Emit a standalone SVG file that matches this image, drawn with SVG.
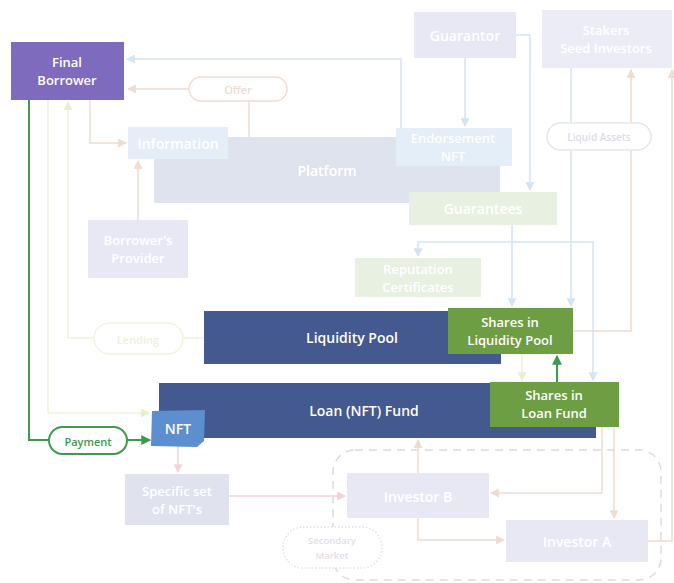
<svg xmlns="http://www.w3.org/2000/svg" width="674" height="583" viewBox="0 0 674 583">
<defs>
<style>
text{font-family:"Open Sans","Liberation Sans",sans-serif;font-weight:600;text-anchor:middle;dominant-baseline:central}
.w{fill:#ffffff;font-size:14px}
.w2{fill:#ffffff;font-size:13px}
.c{fill:none;stroke-width:1.5}
.tan{stroke:#eedcd0}
.blue{stroke:#d3e5f4}
.lg{stroke:#eff3dc}
.pink{stroke:#f2d2d7}
.grn{stroke:#3e9a4c;stroke-width:2}
</style>
<marker id="aTan" viewBox="0 0 8 8" refX="7" refY="4" markerWidth="6" markerHeight="6" orient="auto"><path d="M0,0L8,4L0,8z" fill="#eedcd0"/></marker>
<marker id="aBlue" viewBox="0 0 8 8" refX="7" refY="4" markerWidth="6" markerHeight="6" orient="auto"><path d="M0,0L8,4L0,8z" fill="#d3e5f4"/></marker>
<marker id="aLg" viewBox="0 0 8 8" refX="7" refY="4" markerWidth="6" markerHeight="6" orient="auto"><path d="M0,0L8,4L0,8z" fill="#e8eed0"/></marker>
<marker id="aPink" viewBox="0 0 8 8" refX="7" refY="4" markerWidth="6" markerHeight="6" orient="auto"><path d="M0,0L8,4L0,8z" fill="#f2d2d7"/></marker>
<marker id="aGrn" viewBox="0 0 8 8" refX="7" refY="4" markerWidth="5" markerHeight="5" orient="auto"><path d="M0,0L8,4L0,8z" fill="#3e9a4c"/></marker>
</defs>
<rect width="674" height="583" fill="#ffffff"/>

<g id="connectors">
<path class="c blue" d="M401,128 V59 H127" marker-end="url(#aBlue)"/>
<path class="c tan" d="M189,89 H128" marker-end="url(#aTan)"/>
<path class="c tan" d="M249,101 V137"/>
<path class="c tan" d="M90,100 V143 H126" marker-end="url(#aTan)"/>
<path class="c tan" d="M138,220 V161" marker-end="url(#aTan)"/>
<path class="c blue" d="M465,58 V126" marker-end="url(#aBlue)"/>
<path class="c blue" d="M516,35 H530 V190" marker-end="url(#aBlue)"/>
<path class="c blue" d="M512,225 V306" marker-end="url(#aBlue)"/>
<path class="c blue" d="M512,242 H418 V256" marker-end="url(#aBlue)"/>
<path class="c blue" d="M512,242 H593 V380" marker-end="url(#aBlue)"/>
<path class="c blue" d="M571,68 V306" marker-end="url(#aBlue)"/>
<path class="c tan" d="M573,331 H631 V70" marker-end="url(#aTan)"/>
<path class="c tan" d="M648,541 H672 V70" marker-end="url(#aTan)"/>
<path class="c lg" d="M204,338 H183"/>
<path class="c lg" d="M94,338 H68 V102" marker-end="url(#aLg)"/>
<path class="c lg" d="M48,100 V413 H149" marker-end="url(#aLg)"/>
<path class="c lg" d="M522,354 V380" marker-end="url(#aLg)"/>
<path class="c grn" d="M29,100 V440 H49"/>
<path class="c grn" d="M127,440 H150" marker-end="url(#aGrn)"/>
<path class="c grn" d="M557,382 V356" marker-end="url(#aGrn)"/>
<path class="c pink" d="M178,446 V472" marker-end="url(#aPink)"/>
<path class="c pink" d="M229,496 H345" marker-end="url(#aPink)"/>
<path class="c tan" d="M418,473 V440" marker-end="url(#aTan)"/>
<path class="c tan" d="M602,427 V493 H491" marker-end="url(#aTan)"/>
<path class="c tan" d="M614,427 V518" marker-end="url(#aTan)"/>
<path class="c tan" d="M418,518 V540 H504" marker-end="url(#aTan)"/>
</g>

<g id="secondary-market-area">
<rect x="333" y="450" width="328" height="130" rx="22" fill="none" stroke="#dcdcdc" stroke-width="1.5" stroke-dasharray="8,6"/>
</g>

<g id="platform">
<rect x="154" y="137" width="346" height="66" fill="#dfe3ee"/>
<text class="w" x="327" y="170">Platform</text>
</g>
<g id="information">
<rect x="128" y="127" width="100" height="32" fill="#e5edf8"/>
<text class="w" x="178" y="143">Information</text>
</g>
<g id="final-borrower">
<rect x="11" y="42" width="113" height="58" fill="#7f6bbd"/>
<text class="w2" x="67" y="62">Final</text>
<text class="w2" x="67" y="80">Borrower</text>
</g>
<g id="offer">
<rect x="189" y="77" width="98" height="24" rx="12" fill="#ffffff" stroke="#efdcd0" stroke-width="1.5"/>
<text x="238" y="89" font-size="11" fill="#ecdcd2">Offer</text>
</g>
<g id="guarantor">
<rect x="414" y="12" width="102" height="46" fill="#e8e8f4"/>
<text class="w" x="465" y="35">Guarantor</text>
</g>
<g id="endorsement-nft">
<rect x="396" y="128" width="116" height="38" fill="#e4eef8"/>
<text class="w2" x="453" y="138">Endorsement</text>
<text class="w2" x="453" y="156">NFT</text>
</g>
<g id="stakers">
<rect x="542" y="10" width="130" height="58" fill="#ececf6"/>
<text class="w2" x="606" y="30">Stakers</text>
<text class="w2" x="606" y="48">Seed Investors</text>
</g>
<g id="liquid-assets">
<rect x="547" y="123" width="104" height="27" rx="13.5" fill="#ffffff" stroke="#e6e6ee" stroke-width="1.5"/>
<text x="599" y="137" font-size="10" fill="#dcdce6">Liquid Assets</text>
</g>
<g id="guarantees">
<rect x="409" y="192" width="148" height="33" fill="#e8f0e2"/>
<text class="w" x="483" y="208">Guarantees</text>
</g>
<g id="borrowers-provider">
<rect x="88" y="220" width="100" height="58" fill="#e8e8f4"/>
<text class="w2" x="138" y="240">Borrower's</text>
<text class="w2" x="138" y="258">Provider</text>
</g>
<g id="reputation-certificates">
<rect x="355" y="258" width="126" height="39" fill="#e8f0e2"/>
<text class="w2" x="418" y="269">Reputation</text>
<text class="w2" x="418" y="287">Certificates</text>
</g>
<g id="lending">
<rect x="94" y="323" width="89" height="31" rx="15.5" fill="#ffffff" stroke="#f2f4e0" stroke-width="1.5"/>
<text x="138" y="339" font-size="11" fill="#eef0dc">Lending</text>
</g>
<g id="liquidity-pool">
<rect x="204" y="311" width="297" height="53" fill="#44598f"/>
<text class="w" x="352" y="337">Liquidity Pool</text>
</g>
<g id="shares-lp">
<rect x="448" y="308" width="125" height="46" fill="#6e9e44"/>
<text class="w2" x="510" y="322">Shares in</text>
<text class="w2" x="510" y="340">Liquidity Pool</text>
</g>
<g id="loan-fund">
<rect x="159" y="383" width="437" height="55" fill="#44598f"/>
<text class="w" x="364" y="410">Loan (NFT) Fund</text>
</g>
<g id="shares-lf">
<rect x="490" y="382" width="129" height="45" fill="#6e9e44"/>
<text class="w2" x="554" y="395">Shares in</text>
<text class="w2" x="554" y="413">Loan Fund</text>
</g>
<g id="nft">
<path d="M152,411 L205,410 L204,441 L197,447 L151,446 Z" fill="#5b8fcf"/>
<text class="w" x="178" y="428">NFT</text>
</g>
<g id="payment">
<rect x="49" y="427" width="78" height="27" rx="13.5" fill="#ffffff" stroke="#3e9a4c" stroke-width="2"/>
<text x="88" y="441" font-size="11" fill="#3e9a4c">Payment</text>
</g>
<g id="specific-set">
<rect x="125" y="474" width="104" height="51" fill="#e0e3ee"/>
<text class="w2" x="177" y="491">Specific set</text>
<text class="w2" x="177" y="509">of NFT's</text>
</g>
<g id="investor-b">
<rect x="347" y="473" width="142" height="45" fill="#e8e8f4"/>
<text class="w" x="418" y="496">Investor B</text>
</g>
<g id="investor-a">
<rect x="506" y="520" width="142" height="42" fill="#e8e8f4"/>
<text class="w" x="577" y="541">Investor A</text>
</g>
<g id="secondary-market">
<rect x="283" y="527" width="99" height="41" rx="20" fill="#ffffff" stroke="#e2e2e8" stroke-width="1.5" stroke-dasharray="1.5,2"/>
<text x="332" y="540" font-size="9.5" fill="#e0e0e6">Secondary</text>
<text x="332" y="555" font-size="9.5" fill="#e0e0e6">Market</text>
</g>
</svg>
